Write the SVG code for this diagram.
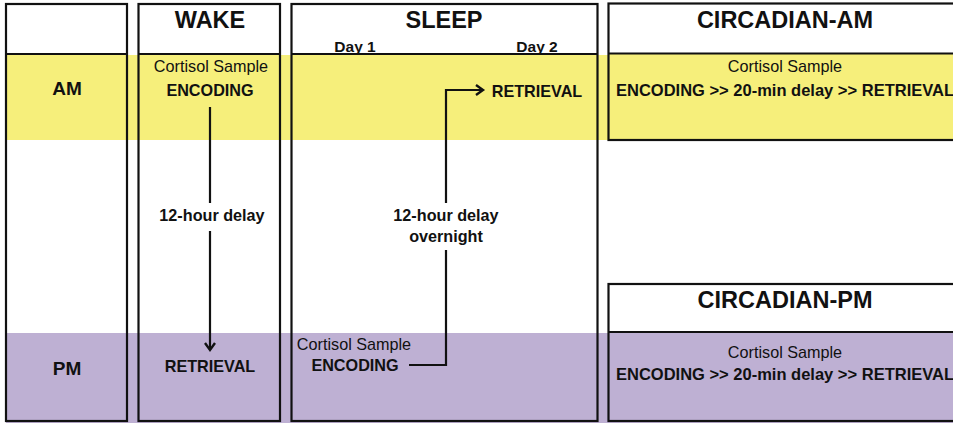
<svg xmlns="http://www.w3.org/2000/svg" width="953" height="423" viewBox="0 0 953 423">
<defs>
<style>
.box{fill:none;stroke:#111;stroke-width:2.2}
.hdr{fill:#fff}
.am{fill:#F6EF7B}
.pm{fill:#BEB0D3}
.t{font-family:"Liberation Sans",Arial,sans-serif;fill:#111;text-anchor:middle}
.b{font-weight:bold}
.title{font-size:23.5px;font-weight:bold}
.row{font-size:19px;font-weight:bold}
.n{font-size:16.2px}
.w{font-size:16.5px}
.day{font-size:15.5px;font-weight:bold}
.ln{fill:none;stroke:#111;stroke-width:2.2}
</style>
<marker id="arr" markerUnits="userSpaceOnUse" markerWidth="14" markerHeight="14" refX="9" refY="7" orient="auto">
<path d="M2,2 L9,7 L2,12" fill="none" stroke="#111" stroke-width="2.4"/>
</marker>
</defs>
<rect width="953" height="423" fill="#fff"/>
<!-- background bands -->
<rect class="am" x="6" y="55" width="603" height="85"/>
<rect class="pm" x="6" y="333" width="603" height="90"/>

<g id="row-labels">
<rect class="box" x="6" y="4" width="121" height="417"/>
<line class="box" x1="6" y1="54" x2="127" y2="54"/>
<text class="t row" x="67" y="95">AM</text>
<text class="t row" x="67" y="375">PM</text>
</g>

<g id="wake">
<rect class="box" x="138.5" y="4" width="141.5" height="417"/>
<line class="box" x1="138.5" y1="54" x2="280" y2="54"/>
<text class="t title" x="210" y="28">WAKE</text>
<text class="t n" x="211" y="72">Cortisol Sample</text>
<text class="t n b" x="210" y="96">ENCODING</text>
<text class="t n b" x="212" y="221">12-hour delay</text>
<text class="t n b" x="210" y="372">RETRIEVAL</text>
</g>

<g id="sleep">
<rect class="box" x="291.5" y="4" width="306" height="417"/>
<line class="box" x1="291.5" y1="54" x2="597.5" y2="54"/>
<text class="t title" x="444" y="28">SLEEP</text>
<text class="t day" x="355" y="52">Day 1</text>
<text class="t day" x="537" y="52">Day 2</text>
<text class="t n b" x="537" y="97">RETRIEVAL</text>
<text class="t n b" x="446" y="221">12-hour delay</text>
<text class="t n b" x="446" y="242">overnight</text>
<text class="t n" x="354" y="350">Cortisol Sample</text>
<text class="t n b" x="355" y="371">ENCODING</text>
</g>

<g id="circadian-am">
<rect class="hdr" x="608.5" y="3.5" width="350" height="50"/>
<rect class="am" x="608.5" y="53.5" width="350" height="86.5"/>
<rect class="box" x="608.5" y="3.5" width="350" height="136.5"/>
<line class="box" x1="608.5" y1="53.5" x2="958" y2="53.5"/>
<text class="t title" x="785" y="28">CIRCADIAN-AM</text>
<text class="t n" x="785" y="72">Cortisol Sample</text>
<text class="t w b" x="785" y="96">ENCODING &gt;&gt; 20-min delay &gt;&gt; RETRIEVAL</text>
</g>

<g id="circadian-pm">
<rect class="hdr" x="608.5" y="284" width="350" height="48"/>
<rect class="pm" x="608.5" y="332" width="350" height="91"/>
<rect class="box" x="608.5" y="284" width="350" height="137"/>
<line class="box" x1="608.5" y1="332" x2="958" y2="332"/>
<text class="t title" x="785" y="308">CIRCADIAN-PM</text>
<text class="t n" x="785" y="358">Cortisol Sample</text>
<text class="t w b" x="785" y="380">ENCODING &gt;&gt; 20-min delay &gt;&gt; RETRIEVAL</text>
</g>

<g id="connectors">
<path class="ln" d="M210,107 V203"/>
<path class="ln" d="M210,231 V350" marker-end="url(#arr)"/>
<path class="ln" d="M409,365 H446 V250"/>
<path class="ln" d="M446,203 V90 H483" marker-end="url(#arr)"/>
</g>
</svg>
